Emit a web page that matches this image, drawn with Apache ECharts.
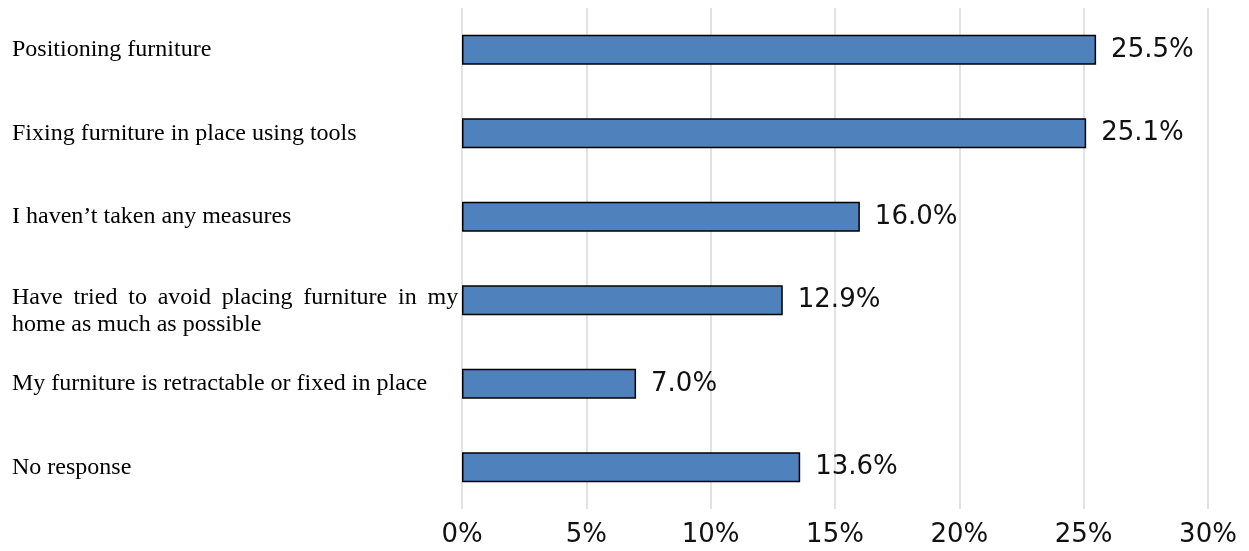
<!DOCTYPE html>
<html>
<head>
<meta charset="utf-8">
<script src="https://cdn.jsdelivr.net/npm/echarts@6/dist/echarts.min.js"></script>
<style>
  html, body { margin: 0; padding: 0; background: #fff; }
  #chart { width: 1249px; height: 551px; }
</style>
</head>
<body>
<div id="chart"></div>
<script>
// Survey answers, listed top to bottom
const categories = [
  'Positioning furniture',
  'Fixing furniture in place using tools',
  'I haven\u2019t taken any measures',
  'Have\u0020\u2009tried\u0020\u2009to\u0020\u2009avoid\u0020\u2009placing\u0020\u2009furniture\u0020\u2009in\u0020\u2009my\nhome as much as possible',
  'My furniture is retractable or fixed in place',
  'No response'
];
// Share of respondents (%)
const shares = [25.5, 25.1, 16.0, 12.9, 7.0, 13.6];
// Value axis ticks (%)
const xTicks = [0, 5, 10, 15, 20, 25, 30];

const chart = echarts.init(document.getElementById('chart'));

const serif = '"Liberation Serif", "Times New Roman", serif';

chart.setOption({
  animation: false,
  backgroundColor: '#ffffff',
  grid: {
    left: 462, right: 41, top: 8, bottom: 42,
    containLabel: false,
    outerBoundsMode: 'none'
  },
  xAxis: {
    type: 'value',
    min: xTicks[0],
    max: xTicks[xTicks.length - 1],
    interval: xTicks[1] - xTicks[0],
    axisLine: { show: false },
    axisTick: { show: false },
    splitLine: { show: true, lineStyle: { color: '#d9d9d9', width: 1.5 } },
    axisLabel: {
      formatter: v => v + '%',
      fontFamily: 'DejaVu Sans',
      fontSize: 26,
      color: '#111111',
      margin: 13,
      hideOverlap: false
    }
  },
  yAxis: {
    type: 'category',
    // category axis runs bottom-up, so reverse for top-to-bottom order
    data: categories.slice().reverse(),
    axisLine: { show: false },
    axisTick: { show: false },
    axisLabel: {
      align: 'left',
      margin: 450,
      fontFamily: serif,
      fontSize: 24,
      lineHeight: 27,
      color: '#000000',
      // a wrapped answer keeps its first line level with the bar
      formatter: v => {
        if (v.indexOf('\n') < 0) return v;
        return '{pad| }\n' + v.split('\n').map(s => '{t|' + s + '}').join('\n');
      },
      rich: {
        pad: { fontFamily: serif, fontSize: 12, lineHeight: 21 },
        t: { fontFamily: serif, fontSize: 24, lineHeight: 27, color: '#000000', align: 'left' }
      }
    }
  },
  series: [{
    type: 'bar',
    data: shares.slice().reverse(),
    barWidth: 30,
    itemStyle: { color: '#4f81bd', borderColor: '#000000', borderWidth: 1.5 },
    label: {
      show: true,
      position: 'right',
      distance: 15,
      formatter: p => p.value.toFixed(1) + '%',
      fontFamily: 'DejaVu Sans',
      fontSize: 26,
      color: '#111111'
    }
  }]
});
</script>
</body>
</html>
